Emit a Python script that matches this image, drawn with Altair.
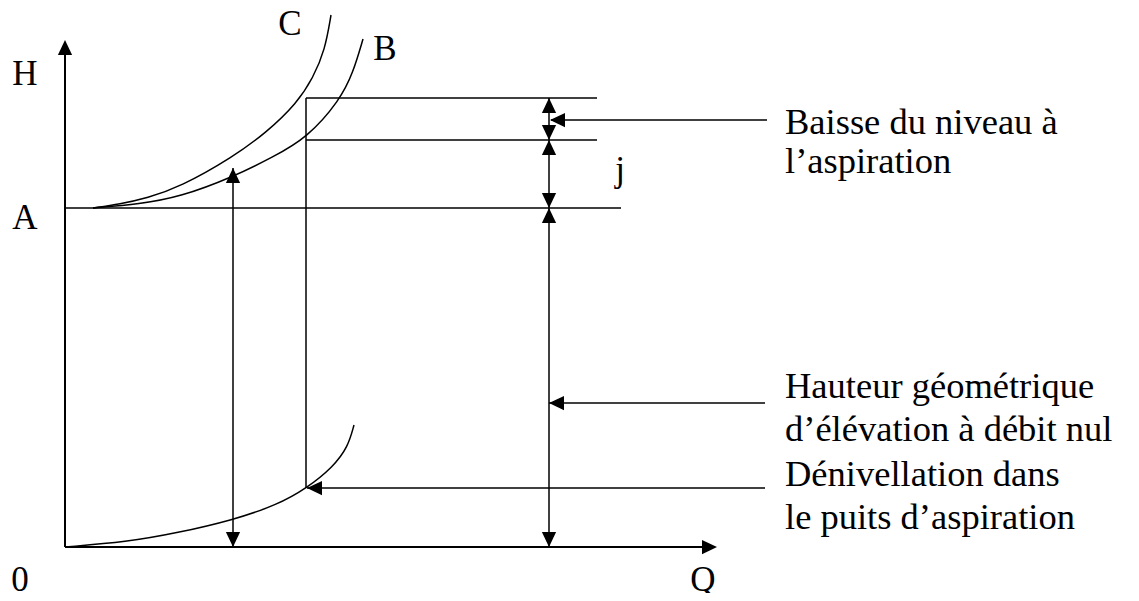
import altair as alt
import pandas as pd

# Coordinates: Q (abscissa) and H (ordinate) in diagram units, origin at axes crossing
# Straight segments
seg_q1 = [0, 0, 0, 241, 241, 241, 168, 484, 486, 484, 242]
seg_h1 = [0, 0, 339, 449, 407, 449, 379, 449, 427, 144, 59]
seg_q2 = [645, 0, 556, 532, 532, 241, 168, 484, 702, 700, 700]
seg_h2 = [0, 499, 339, 449, 407, 59, 0, 0, 427, 144, 59]
seg_w = ["axis", "axis", "l", "l", "l", "l", "l", "l", "l", "l", "l"]

# Curves
curve_c_q = [28, 55, 82, 115, 168, 202, 232, 248, 260, 266]
curve_c_h = [339, 343, 349, 360, 390, 415, 444, 469, 497, 532]
curve_b_q = [28, 75, 115, 168, 208, 242, 275, 288, 298]
curve_b_h = [339, 343, 350, 370, 390, 409, 447, 474, 508]
curve_p_q = [0, 62, 112, 168, 212, 242, 268, 283, 289]
curve_p_h = [0, 5, 14, 27, 42, 59, 80, 100, 122]

# Arrow heads (tip position and direction)
arrow_q = [0, 652, 168, 168, 484, 484, 484, 484, 484, 484, 485, 484, 242]
arrow_h = [507, 0, 379, 0, 449, 407, 407, 339, 339, 0, 427, 144, 59]
arrow_dir = ["up", "right", "up", "down", "up", "down", "up", "down", "up", "down",
             "left", "left", "left"]

# Letters
label_text = ["H", "A", "0", "Q", "C", "B", "j"]
label_q = [-40, -40, -45, 638, 225, 320, 555]
label_h = [462, 318, -44, -44, 512, 487, 366]

# Annotations
note_text = ["Baisse du niveau à", "l’aspiration",
             "Hauteur géométrique", "d’élévation à débit nul",
             "Dénivellation dans", "le puits d’aspiration"]
note_q = [720, 720, 720, 720, 720, 720]
note_h = [413, 374, 149, 106, 61, 18]

W, H = 1123, 585
xs = alt.Scale(domain=[-57, 1066], nice=False, zero=False)
ys = alt.Scale(domain=[-46, 539], nice=False, zero=False)

segs = pd.DataFrame({"q1": seg_q1, "h1": seg_h1, "q2": seg_q2, "h2": seg_h2, "w": seg_w})
rules = alt.Chart(segs).mark_rule(color="black").encode(
    x=alt.X("q1:Q", scale=xs, axis=None),
    y=alt.Y("h1:Q", scale=ys, axis=None),
    x2="q2:Q",
    y2="h2:Q",
    strokeWidth=alt.StrokeWidth("w:N", scale=alt.Scale(domain=["axis", "l"], range=[2, 1.5]), legend=None),
)

rows = []
for name, qs, hs in [("C", curve_c_q, curve_c_h), ("B", curve_b_q, curve_b_h), ("P", curve_p_q, curve_p_h)]:
    for i, (q, h) in enumerate(zip(qs, hs)):
        rows.append({"curve": name, "i": i, "q": q, "h": h})
curves_df = pd.DataFrame(rows)
curves = alt.Chart(curves_df).mark_line(color="black", strokeWidth=1.5, interpolate="basis").encode(
    x=alt.X("q:Q", scale=xs, axis=None),
    y=alt.Y("h:Q", scale=ys, axis=None),
    detail="curve:N",
    order="i:Q",
)

arrows_df = pd.DataFrame({"q": arrow_q, "h": arrow_h, "dir": arrow_dir})
paths = ["M0,0L-0.95,2L0.95,2Z", "M0,0L-0.95,-2L0.95,-2Z", "M0,0L2,-0.95L2,0.95Z", "M0,0L-2,-0.95L-2,0.95Z"]
arrows = alt.Chart(arrows_df).mark_point(filled=True, opacity=1, color="black", size=225, strokeWidth=0).encode(
    x=alt.X("q:Q", scale=xs, axis=None),
    y=alt.Y("h:Q", scale=ys, axis=None),
    shape=alt.Shape("dir:N", scale=alt.Scale(domain=["up", "down", "left", "right"], range=paths), legend=None),
)

labels_df = pd.DataFrame({"t": label_text, "q": label_q, "h": label_h})
labels = alt.Chart(labels_df).mark_text(align="center", baseline="alphabetic", font="Liberation Serif",
                                        fontSize=35, color="black").encode(
    x=alt.X("q:Q", scale=xs, axis=None),
    y=alt.Y("h:Q", scale=ys, axis=None),
    text="t:N",
)

notes_df = pd.DataFrame({"t": note_text, "q": note_q, "h": note_h})
notes = alt.Chart(notes_df).mark_text(align="left", baseline="alphabetic", font="Liberation Serif",
                                      fontSize=36.5, color="black").encode(
    x=alt.X("q:Q", scale=xs, axis=None),
    y=alt.Y("h:Q", scale=ys, axis=None),
    text="t:N",
)

chart = alt.layer(rules, curves, arrows, labels, notes).properties(
    width=W, height=H, padding=0, autosize=alt.AutoSizeParams(type="none"), background="white"
).configure_view(stroke=None)

chart.save("out.html", embed_options={"renderer": "svg", "actions": False})
